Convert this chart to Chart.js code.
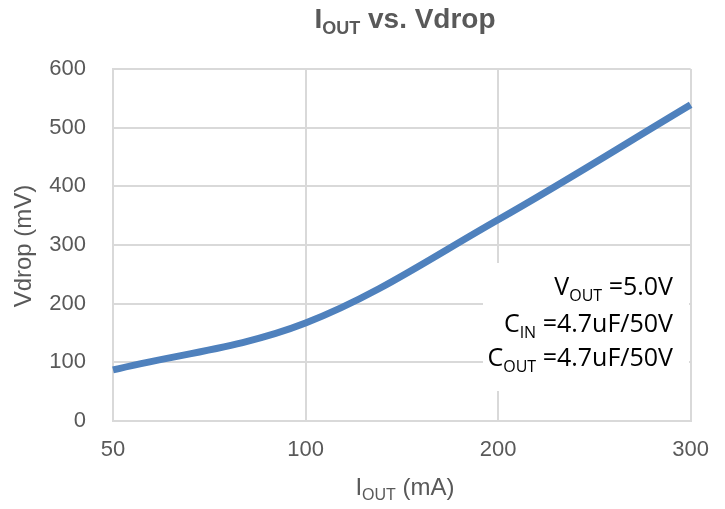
<!DOCTYPE html>
<html>
<head>
<meta charset="utf-8">
<script src="https://cdn.jsdelivr.net/npm/chart.js@4.4.1/dist/chart.umd.min.js"></script>
<style>
  html, body { margin: 0; padding: 0; background: #fff; }
  #wrap { width: 725px; height: 509px; }
</style>
</head>
<body>
<div id="wrap"><canvas id="chartVdrop"></canvas></div>
<script>
/* Datos */
const iout = ['50', '100', '200', '300'];
const vdrop = [87, 167, 343, 539];
const yTicks = [0, 100, 200, 300, 400, 500, 600];
const notes = [
  [['V', false], ['OUT', true], [' =5.0V', false]],
  [['C', false], ['IN', true], [' =4.7uF/50V', false]],
  [['C', false], ['OUT', true], [' =4.7uF/50V', false]],
];

const gray = '#595959';

/* texto con subindices */
drawRich = (ctx, parts, x, y, size, subSize, family, weight, align) => {
  let w = 0;
  parts.forEach((p) => {
    ctx.font = `${weight} ${p[1] ? subSize : size}px ${family}`;
    w += ctx.measureText(p[0]).width;
  });
  let cx = align === 'right' ? x - w : align === 'center' ? x - w / 2 : x;
  ctx.textBaseline = 'alphabetic';
  ctx.textAlign = 'left';
  parts.forEach((p) => {
    ctx.font = `${weight} ${p[1] ? subSize : size}px ${family}`;
    ctx.fillText(p[0], cx, p[1] ? y + size * 0.22 : y);
    cx += ctx.measureText(p[0]).width;
  });
};

const textPlugin = {
  id: 'textPlugin',
  afterDraw(chart) {
    const ctx = chart.ctx;
    ctx.save();
    // titulo
    ctx.fillStyle = gray;
    drawRich(ctx, [['I', false], ['OUT', true], [' vs. Vdrop', false]],
      405, 28, 28, 18, 'Liberation Sans, Arial', 'bold', 'center');
    // titulo eje x
    drawRich(ctx, [['I', false], ['OUT', true], [' (mA)', false]],
      405, 495, 24, 16, 'Liberation Sans, Arial', 'normal', 'center');
    // titulo eje y
    ctx.translate(31, 246);
    ctx.rotate(-Math.PI / 2);
    ctx.font = 'normal 24px Liberation Sans, Arial';
    ctx.textAlign = 'center';
    ctx.textBaseline = 'alphabetic';
    ctx.fillText('Vdrop (mV)', 0, 0);
    ctx.restore();

    // cuadro de notas
    ctx.save();
    ctx.fillStyle = '#ffffff';
    ctx.fillRect(483, 263, 206, 128);
    ctx.fillStyle = '#000000';
    const base = [295, 332, 366];
    notes.forEach((n, i) => {
      drawRich(ctx, n, 673, base[i], 25, 16, 'Open Sans, Noto Sans', 'normal', 'right');
    });
    ctx.restore();
  },
};

const ctx = document.getElementById('chartVdrop').getContext('2d');
const myChart = new Chart(ctx, {
  type: 'line',
  data: {
    labels: iout,
    datasets: [
      {
        data: vdrop,
        borderColor: '#4F81BD',
        borderWidth: 7,
        pointRadius: 0,
        tension: 0.35,
        fill: false,
      },
    ],
  },
  options: {
    responsive: true,
    maintainAspectRatio: false,
    animation: false,
    layout: {
      padding: { top: 69, right: 34, left: 0, bottom: 0 },
    },
    plugins: {
      legend: { display: false },
      tooltip: { enabled: false },
    },
    scales: {
      x: {
        type: 'category',
        offset: false,
        grid: { color: '#d9d9d9', lineWidth: 2, drawTicks: false },
        border: { color: '#d9d9d9', width: 2 },
        ticks: {
          color: gray,
          font: { size: 22, family: 'Liberation Sans, Arial' },
          padding: 16,
          maxRotation: 0,
        },
        afterFit: (scale) => {
          scale.height = 88;
        },
      },
      y: {
        min: 0,
        max: 600,
        afterBuildTicks: (scale) => {
          scale.ticks = yTicks.map((v) => ({ value: v }));
        },
        grid: { color: '#d9d9d9', lineWidth: 2, drawTicks: false },
        border: { color: '#d9d9d9', width: 2 },
        ticks: {
          color: gray,
          font: { size: 22, family: 'Liberation Sans, Arial' },
          padding: 27,
        },
        afterFit: (scale) => {
          scale.width = 113;
        },
      },
    },
  },
  plugins: [textPlugin],
});
</script>
</body>
</html>
